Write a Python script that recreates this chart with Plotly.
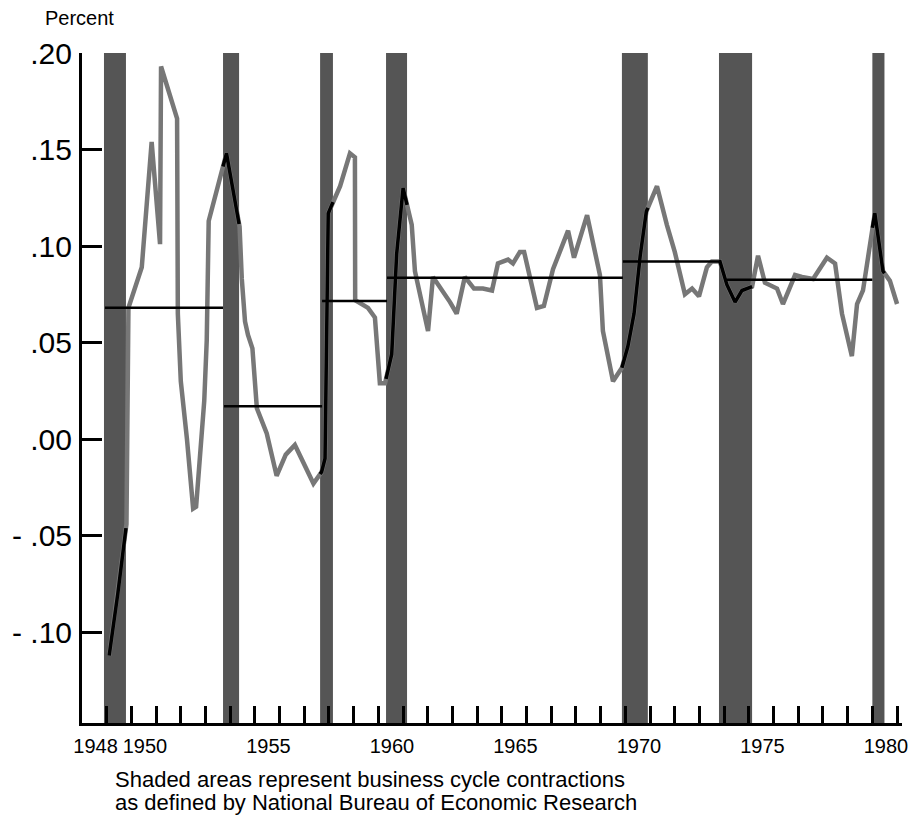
import numpy as np
import plotly.graph_objects as go

# ---------------- data ----------------
dates = [1949.10, 1949.45, 1949.80, 1949.88, 1950.42, 1950.82, 1951.16, 1951.20,
         1951.85, 1951.88, 1952.00, 1952.25, 1952.50, 1952.62, 1952.95, 1953.05,
         1953.13, 1953.85, 1954.38, 1954.47, 1954.60, 1954.72, 1954.90, 1955.08,
         1955.48, 1955.88, 1956.25, 1956.62, 1957.00, 1957.37, 1957.70, 1957.84,
         1957.97, 1958.20, 1958.45, 1958.85, 1959.05, 1959.06, 1959.58, 1959.86,
         1960.06, 1960.27, 1960.54, 1960.74, 1961.00, 1961.35, 1961.48, 1962.01,
         1962.21, 1962.90, 1963.17, 1963.50, 1963.87, 1964.23, 1964.60, 1964.84,
         1965.25, 1965.45, 1965.73, 1965.90, 1966.42, 1966.70, 1967.07, 1967.68,
         1967.92, 1968.45, 1968.97, 1969.09, 1969.50, 1969.86, 1970.10, 1970.35,
         1970.60, 1970.85, 1971.28, 1971.68, 1972.00, 1972.41, 1972.70, 1972.98,
         1973.30, 1973.50, 1973.83, 1974.11, 1974.44, 1974.72, 1975.13, 1975.37,
         1975.65, 1976.14, 1976.38, 1976.87, 1977.15, 1977.60, 1978.16, 1978.49,
         1978.77, 1979.17, 1979.38, 1979.62, 1979.98, 1980.10, 1980.43, 1980.71,
         1981.00]
values = [-0.112, -0.080, -0.044, 0.068, 0.089, 0.154, 0.101, 0.193,
          0.166, 0.065, 0.030, 0.000, -0.036, -0.035, 0.020, 0.051,
          0.113, 0.148, 0.110, 0.083, 0.061, 0.054, 0.047, 0.016,
          0.003, -0.019, -0.008, -0.003, -0.013, -0.023, -0.017, -0.010,
          0.117, 0.124, 0.131, 0.148, 0.146, 0.072, 0.068, 0.063,
          0.029, 0.029, 0.044, 0.096, 0.130, 0.111, 0.087, 0.056,
          0.084, 0.071, 0.065, 0.084, 0.078, 0.078, 0.077, 0.091,
          0.093, 0.091, 0.097, 0.097, 0.068, 0.069, 0.088, 0.108,
          0.094, 0.116, 0.085, 0.056, 0.030, 0.037, 0.048, 0.065,
          0.095, 0.118, 0.131, 0.111, 0.097, 0.075, 0.078, 0.074,
          0.089, 0.092, 0.092, 0.080, 0.071, 0.077, 0.079, 0.095,
          0.081, 0.078, 0.070, 0.085, 0.084, 0.083, 0.094, 0.091,
          0.065, 0.043, 0.070, 0.077, 0.108, 0.117, 0.087, 0.082,
          0.070]

# business cycle contractions (shaded)
rec_start = [1948.89, 1953.71, 1957.64, 1960.31, 1969.86, 1973.79, 1980.00]
rec_end = [1949.78, 1954.36, 1958.16, 1961.16, 1970.91, 1975.13, 1980.49]

# cycle averages (black horizontal lines)
mean_start = [1948.93, 1953.75, 1957.72, 1960.35, 1969.90, 1974.10]
mean_end = [1953.71, 1957.72, 1960.35, 1969.90, 1973.83, 1980.00]
mean_val = [0.068, 0.017, 0.0715, 0.0836, 0.092, 0.0825]

y_tickvals = [-0.10, -0.05, 0.00, 0.05, 0.10, 0.15, 0.20]
y_ticktext = ["- .10", "- .05", ".00", ".05", ".10", ".15", ".20"]
x_label_years = [1948, 1950, 1955, 1960, 1965, 1970, 1975, 1980]
x_tick_years = list(range(1949, 1982))

FONT = "Liberation Sans, Arial, Helvetica, sans-serif"
GRAY = "#777777"
BAR = "#555555"

d = np.array(dates)
v = np.array(values)

fig = go.Figure()

# shaded recession bars
for s, e in zip(rec_start, rec_end):
    fig.add_shape(type="rect", xref="x", yref="paper", x0=s, x1=e, y0=0, y1=1,
                  fillcolor=BAR, line=dict(width=0), layer="below")

# main gray line
fig.add_trace(go.Scatter(x=dates, y=values, mode="lines",
                         line=dict(color=GRAY, width=4.5), hoverinfo="skip"))

# black portions inside recessions
bx, by = [], []
for s, e in zip(rec_start, rec_end):
    s2 = max(s, d[0]); e2 = min(e, d[-1])
    if s2 >= e2:
        continue
    xs = [s2] + [x for x in dates if s2 < x < e2] + [e2]
    ys = list(np.interp(xs, d, v))
    bx += xs + [None]; by += ys + [None]
fig.add_trace(go.Scatter(x=bx, y=by, mode="lines",
                         line=dict(color="black", width=3.5), hoverinfo="skip"))

# cycle average lines
mx, my = [], []
for s, e, m in zip(mean_start, mean_end, mean_val):
    mx += [s, e, None]; my += [m, m, None]
fig.add_trace(go.Scatter(x=mx, y=my, mode="lines",
                         line=dict(color="black", width=2.5), hoverinfo="skip"))

fig.update_layout(
    width=908, height=816,
    margin=dict(l=82, r=6, t=53, b=93, autoexpand=False),
    paper_bgcolor="white", plot_bgcolor="white",
    showlegend=False,
    font=dict(family=FONT, color="black"),
    xaxis=dict(range=[1948, 1981.2], showgrid=False, zeroline=False,
               automargin=False,
               showline=True, linecolor="black", linewidth=3,
               tickmode="array", tickvals=[y + 0.55 for y in x_label_years],
               ticktext=[str(y) for y in x_label_years], ticks="",
               tickfont=dict(size=20, family=FONT, color="black"),
               ticklabelstandoff=3, ticklabeloverflow="allow",
               minor=dict(tickmode="array", tickvals=x_tick_years, ticks="inside",
                          ticklen=17, tickwidth=2.5, tickcolor="black", showgrid=False)),
    yaxis=dict(range=[-0.147, 0.20], showgrid=False, zeroline=False,
               automargin=False,
               showline=True, linecolor="black", linewidth=3,
               tickmode="array", tickvals=y_tickvals, ticktext=y_ticktext,
               ticks="inside", ticklen=20, tickwidth=2.5, tickcolor="black",
               tickfont=dict(size=30, family=FONT, color="black"),
               ticklabelstandoff=1),
    annotations=[
        dict(text="Percent", xref="paper", yref="paper", x=-0.0476, y=1.052,
             xanchor="left", yanchor="middle", showarrow=False,
             font=dict(size=20, family=FONT, color="black")),
        dict(text="Shaded areas represent business cycle contractions", xref="paper",
             yref="paper", x=0.0378, y=-0.0836, xanchor="left", yanchor="middle",
             showarrow=False, font=dict(size=22, family=FONT, color="black")),
        dict(text="as defined by National Bureau of Economic Research", xref="paper",
             yref="paper", x=0.0378, y=-0.119, xanchor="left", yanchor="middle",
             showarrow=False, font=dict(size=22, family=FONT, color="black")),
    ],
)

# remove the browser's default 8px body margin so the figure fills the window
fig.write_html("out.html",
               config={"displayModeBar": False},
               post_script="document.body.style.margin='0';document.body.style.overflow='hidden';")
